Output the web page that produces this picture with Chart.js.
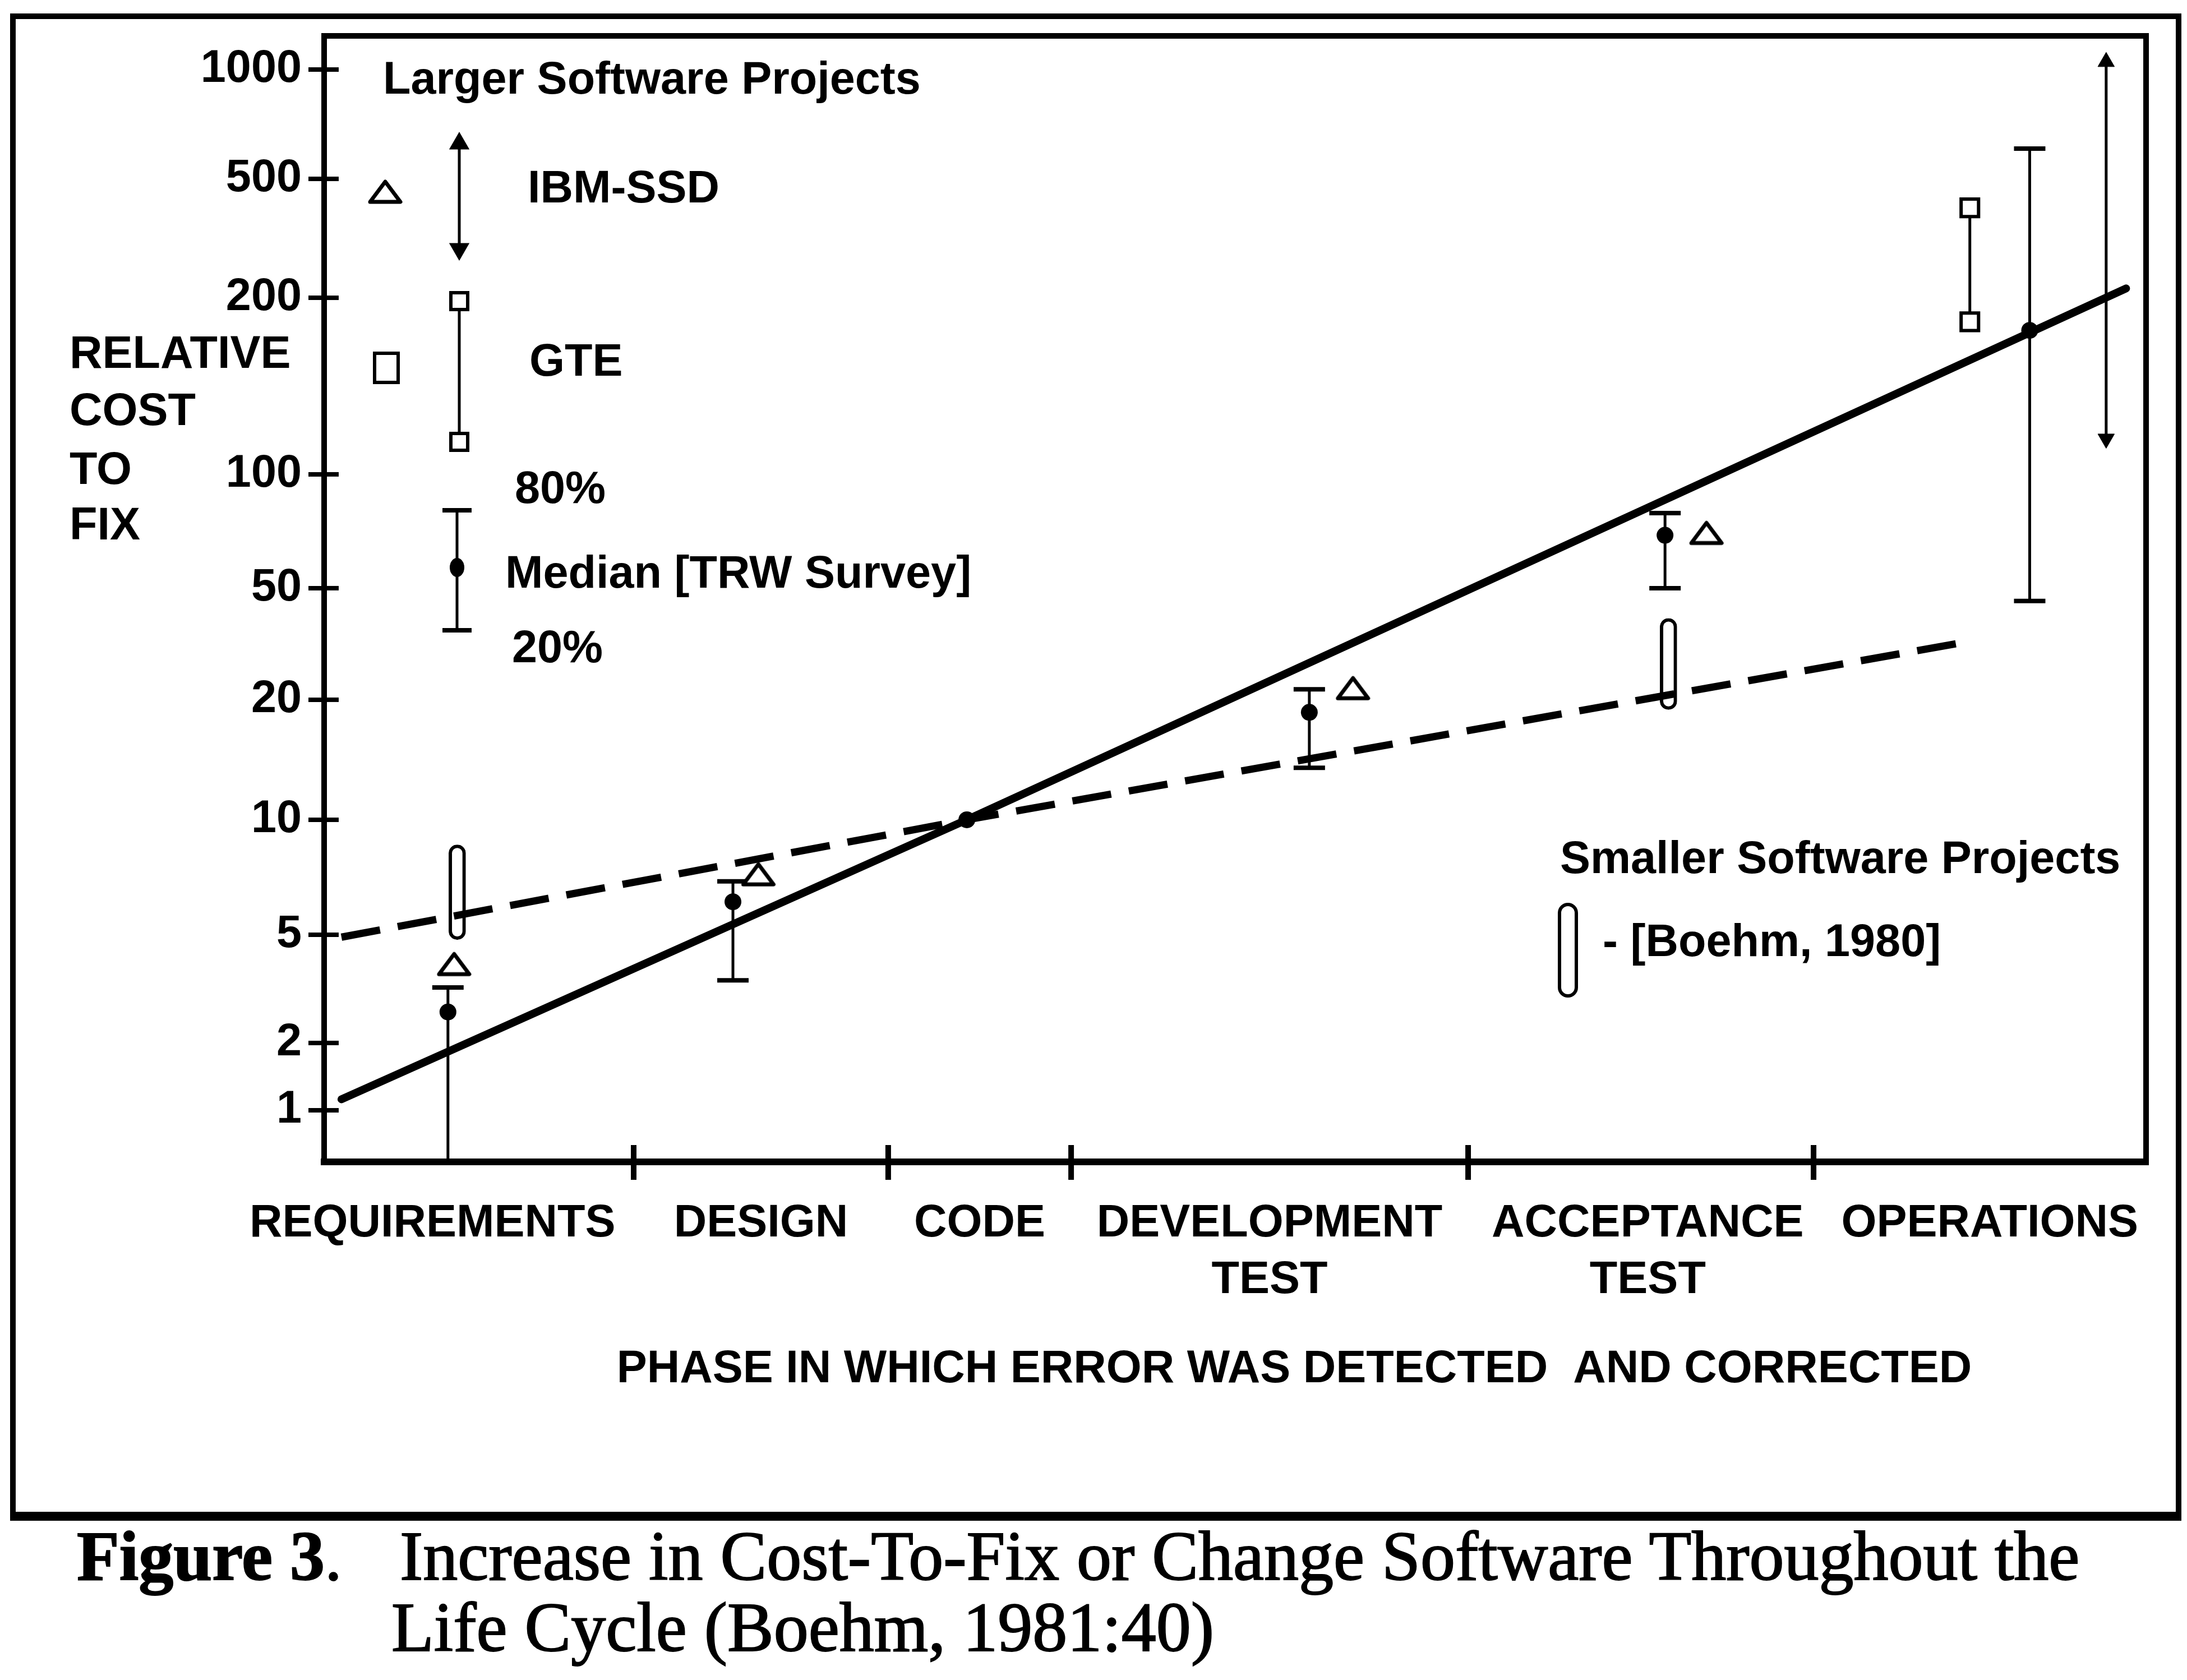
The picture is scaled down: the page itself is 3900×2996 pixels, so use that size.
<!DOCTYPE html>
<html>
<head>
<meta charset="utf-8">
<script src="https://cdn.jsdelivr.net/npm/chart.js@4.4.1/dist/chart.umd.min.js"></script>
<style>
  html, body { margin: 0; padding: 0; background: #fff; }
  #wrap { position: relative; width: 3900px; height: 2996px; overflow: hidden; }
  #c { position: absolute; left: 0; top: 0; }
  .cap { position: absolute; font-family: 'Liberation Serif', 'DejaVu Serif', serif; font-size: 124px; line-height: 124px; color: #000; white-space: pre; -webkit-text-stroke: 2px #000; }
  .cap b { font-weight: bold; -webkit-text-stroke: 2px #000; }
</style>
</head>
<body>
<div id="wrap">
  <canvas id="c" width="3900" height="2996"></canvas>
  <div class="cap" style="left:137px; top:2714px;"><b>Figure 3</b>.</div>
  <div class="cap" style="left:713px; top:2714px;">Increase in Cost-To-Fix or Change Software Throughout the</div>
  <div class="cap" style="left:698px; top:2841px;">Life Cycle (Boehm, 1981:40)</div>
</div>
<script>
// ---------------- DATA ----------------
const phaseLabels = ['REQUIREMENTS', 'DESIGN', 'CODE', ['DEVELOPMENT', 'TEST'], ['ACCEPTANCE', 'TEST'], 'OPERATIONS'];
const phaseLabelPos = [0.35, 1.5, 2.5, 3.5, 4.52, 5.53];
const phaseBounds = [1, 2, 3, 4, 5];
const yTicks = [1, 2, 5, 10, 20, 50, 100, 200, 500, 1000];

// Median (TRW Survey) with 20% / 80% range
const trwX = [0.40, 1.39, 3.60, 4.57, 5.65];
const trwLow = [0.5, 3.4, 13.5, 50, 45];
const trwMedian = [2.6, 6.1, 18.6, 69, 176];
const trwHigh = [3.2, 6.9, 21.8, 79, 606];

// IBM-SSD
const ibmX = [0.42, 1.49, 3.71, 4.69];
const ibmValues = [3.9, 7.2, 22, 70];
const ibmOpsX = [5.88, 5.88];
const ibmOpsRange = [115, 1050];

// GTE
const gteOpsX = [5.47, 5.47];
const gteOpsRange = [182, 400];

// Smaller software projects [Boehm, 1980]
const smallX = [0.43, 4.58];
const smallLow = [4.8, 18.9];
const smallHigh = [8.6, 39];

// Trend lines
const largeTrendX = [0.056, 2.43, 5.94];
const largeTrendY = [1.12, 10, 215];
const smallTrendX = [0.056, 2.43, 5.43];
const smallTrendY = [4.9, 10, 31.7];
const codeX = [2.43];
const codeY = [10];

// ---------------- SCALE ----------------
class PiecewiseScale extends Chart.LinearScale {
  static id = 'piecewise';
  static defaults = {};
  determineDataLimits() {
    const a = this.options.anchors;
    this.min = a[0][0];
    this.max = a[a.length - 1][0];
  }
  buildTicks() {
    return this.options.tickValues.map(v => ({ value: v }));
  }
  _tf(v) { return this.options.logTransform ? Math.log10(v) : v; }
  getPixelForValue(value) {
    if (value === null || value === undefined || isNaN(value)) return NaN;
    const a = this.options.anchors;
    const t = this._tf(value);
    let i = 0;
    while (i < a.length - 2 && t > this._tf(a[i + 1][0])) i++;
    const t0 = this._tf(a[i][0]), t1 = this._tf(a[i + 1][0]);
    const f = a[i][1] + (a[i + 1][1] - a[i][1]) * (t - t0) / (t1 - t0);
    return this.getPixelForDecimal(f);
  }
  getValueForPixel(pixel) {
    const f = this.getDecimalForPixel(pixel);
    const a = this.options.anchors;
    let i = 0;
    while (i < a.length - 2 && f > a[i + 1][1]) i++;
    const t0 = this._tf(a[i][0]), t1 = this._tf(a[i + 1][0]);
    const t = t0 + (t1 - t0) * (f - a[i][1]) / (a[i + 1][1] - a[i][1]);
    return this.options.logTransform ? Math.pow(10, t) : t;
  }
}
Chart.register(PiecewiseScale);

// ---------------- STYLE HELPERS ----------------
const FONT = "'Liberation Sans', Arial, sans-serif";
const FS = 81;

function makeTriangle() {
  const c = document.createElement('canvas');
  c.width = 64; c.height = 46;
  const g = c.getContext('2d');
  g.lineWidth = 7; g.lineJoin = 'round';
  g.strokeStyle = '#000'; g.fillStyle = '#fff';
  g.beginPath(); g.moveTo(32, 5); g.lineTo(59, 41); g.lineTo(5, 41); g.closePath();
  g.fill(); g.stroke();
  return c;
}
const triImg = makeTriangle();

const pts = (xs, ys) => xs.map((x, i) => ({ x, y: ys[i] }));
const whiskerData = [];
trwX.forEach((x, i) => { whiskerData.push({ x, y: trwLow[i] }, { x, y: trwHigh[i] }, { x, y: null }); });

// ---------------- DECORATION PLUGIN ----------------
function seg(ctx, x1, y1, x2, y2, w) {
  ctx.lineWidth = w;
  ctx.beginPath(); ctx.moveTo(x1, y1); ctx.lineTo(x2, y2); ctx.stroke();
}
function txt(ctx, s, x, y, size, align) {
  ctx.font = 'bold ' + size + 'px ' + FONT;
  ctx.textAlign = align || 'left';
  ctx.textBaseline = 'middle';
  ctx.fillStyle = '#000';
  ctx.fillText(s, x, y);
}

const decor = {
  id: 'decor',
  beforeDraw(chart) {
    const ctx = chart.ctx;
    ctx.save(); ctx.fillStyle = '#fff'; ctx.fillRect(0, 0, chart.width, chart.height); ctx.restore();
  },
  afterDraw(chart) {
    const { ctx, chartArea: a, scales: { x, y } } = chart;
    const H = Chart.helpers;
    ctx.save();
    ctx.strokeStyle = '#000';
    ctx.lineCap = 'butt';

    // inner frame top and right
    ctx.lineWidth = 10;
    ctx.beginPath();
    ctx.moveTo(a.left - 5, a.top); ctx.lineTo(a.right, a.top); ctx.lineTo(a.right, a.bottom + 6);
    ctx.stroke();

    // outer frame
    ctx.lineWidth = 10;
    ctx.beginPath();
    ctx.moveTo(23, 2704); ctx.lineTo(23, 29); ctx.lineTo(3885, 29); ctx.lineTo(3885, 2704);
    ctx.stroke();
    seg(ctx, 18, 2704, 3890, 2704, 16);

    // inner halves of the tick marks
    yTicks.forEach(v => { const py = y.getPixelForValue(v); seg(ctx, a.left, py, a.left + 26, py, 8); });
    phaseBounds.forEach(b => { const px = x.getPixelForValue(b); seg(ctx, px, a.bottom - 30, px, a.bottom + 32, 10); });

    // y-axis title
    ['RELATIVE', 'COST', 'TO', 'FIX'].forEach((s, i) => txt(ctx, s, 124, [634, 736, 841, 940][i], FS));
    // x-axis title
    txt(ctx, 'PHASE IN WHICH ERROR WAS DETECTED  AND CORRECTED', 2308, 2443, FS, 'center');

    // ----- legend: larger software projects -----
    txt(ctx, 'Larger Software Projects', 683, 145, FS);
    // IBM-SSD
    ctx.drawImage(triImg, 687 - 32, 342 - 23);
    seg(ctx, 819, 252, 819, 448, 5);
    ctx.fillStyle = '#000';
    H.drawPoint(ctx, { pointStyle: 'triangle', radius: 16, rotation: 0, borderWidth: 2 }, 819, 256);
    ctx.fill();
    H.drawPoint(ctx, { pointStyle: 'triangle', radius: 16, rotation: 180, borderWidth: 2 }, 819, 444);
    ctx.fill();
    txt(ctx, 'IBM-SSD', 941, 339, FS);
    // GTE
    ctx.lineWidth = 6;
    ctx.fillStyle = '#fff';
    ctx.fillRect(668, 630, 42, 52); ctx.strokeRect(668, 630, 42, 52);
    seg(ctx, 819, 537, 819, 788, 5);
    ctx.lineWidth = 6;
    [537, 788].forEach(py => { ctx.fillStyle = '#fff'; ctx.fillRect(804, py - 15, 30, 30); ctx.strokeRect(804, py - 15, 30, 30); });
    txt(ctx, 'GTE', 944, 648, FS);
    // TRW
    txt(ctx, '80%', 918, 875, FS);
    seg(ctx, 815, 910, 815, 1124, 5);
    seg(ctx, 789, 910, 841, 910, 8);
    seg(ctx, 789, 1124, 841, 1124, 8);
    ctx.fillStyle = '#000';
    ctx.beginPath(); ctx.ellipse(815, 1012, 13, 17, 0, 0, Math.PI * 2); ctx.fill();
    txt(ctx, 'Median [TRW Survey]', 901, 1026, FS);
    txt(ctx, '20%', 913, 1159, FS);

    // ----- legend: smaller software projects -----
    txt(ctx, 'Smaller Software Projects', 2782, 1535, FS);
    ctx.lineWidth = 6; ctx.fillStyle = '#fff';
    ctx.beginPath();
    if (ctx.roundRect) ctx.roundRect(2781, 1613, 30, 163, 15); else ctx.rect(2781, 1613, 30, 163);
    ctx.fill(); ctx.stroke();
    txt(ctx, '- [Boehm, 1980]', 2858, 1683, FS);

    ctx.restore();
  }
};

// ---------------- CHART ----------------
const black = '#000';
new Chart(document.getElementById('c'), {
  type: 'line',
  data: {
    datasets: [
      { label: 'Code', data: pts(codeX, codeY), showLine: false, pointStyle: 'circle', pointRadius: 15, pointBackgroundColor: black, pointBorderColor: black, pointBorderWidth: 0 },
      { label: 'Median (TRW Survey)', data: pts(trwX, trwMedian), showLine: false, pointStyle: 'circle', pointRadius: 15, pointBackgroundColor: black, pointBorderColor: black, pointBorderWidth: 0 },
      { label: 'IBM-SSD', data: pts(ibmX, ibmValues), showLine: false, pointStyle: triImg },
      { label: 'TRW 20%-80%', data: whiskerData, spanGaps: false, clip: 0, borderColor: black, borderWidth: 5, pointStyle: 'line', pointRadius: 28, pointBorderWidth: 8, pointBorderColor: black },
      { label: 'IBM-SSD operations', data: pts(ibmOpsX, ibmOpsRange), borderColor: black, borderWidth: 5, pointStyle: 'triangle', pointRotation: [180, 0], pointRadius: 17, pointBackgroundColor: black, pointBorderColor: black, pointBorderWidth: 1 },
      { label: 'GTE operations', data: pts(gteOpsX, gteOpsRange), borderColor: black, borderWidth: 5, pointStyle: 'rect', pointRadius: 22, pointBackgroundColor: '#fff', pointBorderColor: black, pointBorderWidth: 6 },
      { label: 'Larger projects trend', data: pts(largeTrendX, largeTrendY), borderColor: black, borderWidth: 14, pointRadius: 0, tension: 0, borderCapStyle: 'round' },
      { label: 'Smaller projects trend', data: pts(smallTrendX, smallTrendY), borderColor: black, borderWidth: 13, borderDash: [70, 32], pointRadius: 0, tension: 0 },
      { type: 'bar', label: 'Boehm 1980', data: smallX.map((x, i) => ({ x, y: [smallLow[i], smallHigh[i]] })), backgroundColor: '#fff', borderColor: black, borderWidth: 6, borderRadius: 15, borderSkipped: false, barThickness: 30, grouped: false }
    ]
  },
  options: {
    responsive: false,
    animation: false,
    events: [],
    layout: { padding: { left: 0, top: 64, right: 73, bottom: 0 }, autoPadding: false },
    plugins: { legend: { display: false }, tooltip: { enabled: false }, title: { display: false } },
    scales: {
      x: {
        type: 'piecewise',
        anchors: [[0, 0], [1, 0.1699], [2, 0.3096], [3, 0.4100], [4, 0.6279], [5, 0.8175], [6, 1]],
        tickValues: phaseLabelPos,
        afterFit: s => { s.height = 924; },
        grid: { display: false, drawTicks: false },
        border: { display: true, color: black, width: 12 },
        ticks: {
          autoSkip: false, maxRotation: 0, minRotation: 0, padding: 60, color: black,
          font: { family: FONT, size: FS, weight: 'bold', lineHeight: 1.25 },
          callback: (v, i) => phaseLabels[i]
        }
      },
      y: {
        type: 'piecewise',
        logTransform: true,
        anchors: [[1, 0.0458], [2, 0.1056], [5, 0.2017], [10, 0.3038], [20, 0.4104], [50, 0.5095], [100, 0.6106], [200, 0.7674], [500, 0.8730], [1000, 0.9701]],
        tickValues: yTicks,
        afterFit: s => { s.width = 578; },
        grid: { display: true, drawOnChartArea: false, drawTicks: true, tickLength: 28, tickWidth: 8, lineWidth: 8, tickColor: black, color: black },
        border: { display: true, color: black, width: 10 },
        ticks: {
          padding: 12, color: black,
          font: { family: FONT, size: FS, weight: 'bold' },
          callback: v => String(v)
        }
      }
    }
  },
  plugins: [decor]
});
</script>
</body>
</html>
